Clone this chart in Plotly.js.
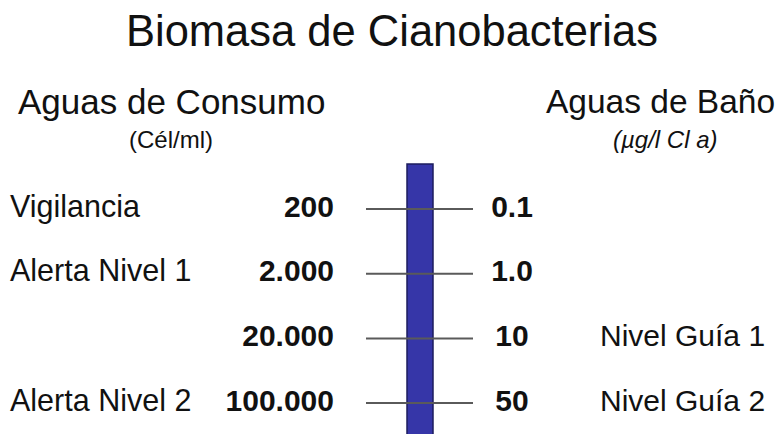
<!DOCTYPE html>
<html>
<head>
<meta charset="utf-8">
<script src="https://cdn.plot.ly/plotly-3.0.1.min.js"></script>
<style>html,body{margin:0;padding:0;background:#fff;}#chart{width:781px;height:434px;}</style>
</head>
<body>
<div id="chart"></div>
<script>
// ---- data ----
const levels = [0, 1, 2, 3];
const consumoLabels = ["Vigilancia", "Alerta Nivel 1", "", "Alerta Nivel 2"];
const consumoTicks = ["200", "2.000", "20.000", "100.000"];
const banoTicks = ["0.1", "1.0", "10", "50"];
const banoLabels = ["", "", "Nivel Guía 1", "Nivel Guía 2"];

// ---- layout constants (pixel-like x units, level units on y) ----
const W = 781, H = 434;
const rowTopPx = 209, rowStepPx = 64.7;
const yTop = -rowTopPx / rowStepPx;
const yBottom = (H - rowTopPx) / rowStepPx;
const FONT = "Liberation Sans, Arial, Helvetica, sans-serif";
const barX = 420, barW = 26, barTopLevel = (164 - rowTopPx) / rowStepPx;
const tickX0 = 366, tickX1 = 473;
const xLeftLabel = 10, xLeftNum = 334, xRightNum = 512, xRightLabel = 600;

function pyToPaper(px) { return 1 - px / H; }

// tick lines
const lx = [], ly = [];
levels.forEach(l => { lx.push(tickX0, tickX1, null); ly.push(l, l, null); });

const traces = [
  { type: "scatter", mode: "lines", x: lx, y: ly,
    line: { color: "#5a5a5a", width: 2 }, hoverinfo: "skip", showlegend: false },
  { type: "bar", x: [barX], y: [yBottom + 1 - barTopLevel], base: [barTopLevel],
    width: [barW], marker: { color: "#3636a8", line: { color: "#1c1c5e", width: 1.5 } },
    hoverinfo: "skip", showlegend: false },
  { type: "scatter", mode: "text", x: levels.map(() => xLeftLabel), y: levels,
    text: consumoLabels, textposition: "middle right",
    textfont: { family: FONT, size: 30.5, color: "#111" }, hoverinfo: "skip", showlegend: false },
  { type: "scatter", mode: "text", x: levels.map(() => xLeftNum), y: levels,
    text: consumoTicks.map(t => "<b>" + t + "</b>"), textposition: "middle left",
    textfont: { family: FONT, size: 30, color: "#111" }, hoverinfo: "skip", showlegend: false },
  { type: "scatter", mode: "text", x: levels.map(() => xRightNum), y: levels,
    text: banoTicks.map(t => "<b>" + t + "</b>"), textposition: "middle center",
    textfont: { family: FONT, size: 30, color: "#111" }, hoverinfo: "skip", showlegend: false },
  { type: "scatter", mode: "text", x: levels.map(() => xRightLabel), y: levels,
    text: banoLabels, textposition: "middle right",
    textfont: { family: FONT, size: 30, color: "#111" }, hoverinfo: "skip", showlegend: false }
];

const annotations = [
  { text: "Biomasa de Cianobacterias", x: 391.5, xref: "x", y: pyToPaper(31), yref: "paper",
    xanchor: "center", yanchor: "middle", showarrow: false, font: { family: FONT, size: 43.5, color: "#111" } },
  { text: "Aguas de Consumo", x: 171.5, xref: "x", y: pyToPaper(102), yref: "paper",
    xanchor: "center", yanchor: "middle", showarrow: false, font: { family: FONT, size: 35, color: "#111" } },
  { text: "Aguas de Baño", x: 660, xref: "x", y: pyToPaper(102), yref: "paper",
    xanchor: "center", yanchor: "middle", showarrow: false, font: { family: FONT, size: 33.5, color: "#111" } },
  { text: "(Cél/ml)", x: 171, xref: "x", y: pyToPaper(139), yref: "paper",
    xanchor: "center", yanchor: "middle", showarrow: false, font: { family: FONT, size: 24, color: "#111" } },
  { text: "<i>(µg/l Cl a)</i>", x: 665, xref: "x", y: pyToPaper(139), yref: "paper",
    xanchor: "center", yanchor: "middle", showarrow: false, font: { family: FONT, size: 24, color: "#111" } }
];

const layout = {
  width: W, height: H,
  margin: { l: 0, r: 0, t: 0, b: 0, pad: 0 },
  paper_bgcolor: "#ffffff", plot_bgcolor: "#ffffff",
  showlegend: false,
  xaxis: { range: [0, W], visible: false, fixedrange: true },
  yaxis: { range: [yBottom, yTop], visible: false, fixedrange: true },
  annotations: annotations,
  bargap: 0
};

Plotly.newPlot("chart", traces, layout, { staticPlot: true, displayModeBar: false });
</script>
</body>
</html>
